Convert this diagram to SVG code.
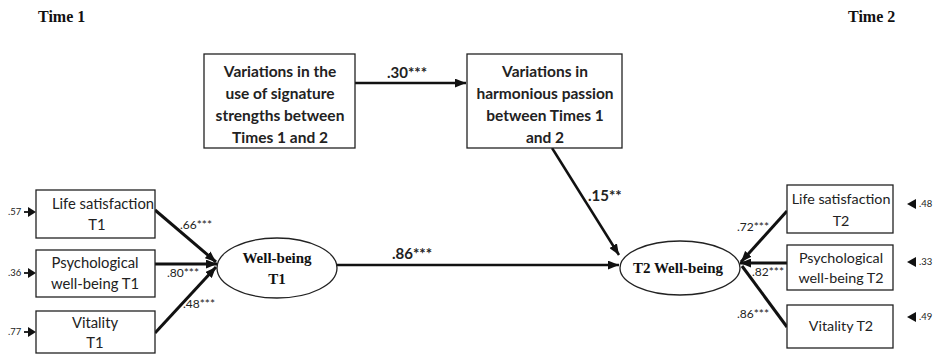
<svg xmlns="http://www.w3.org/2000/svg" width="938" height="355" viewBox="0 0 938 355">
  <style>
    .box { fill: #fff; stroke: #222; stroke-width: 1.3; }
    .ell { fill: #fff; stroke: #222; stroke-width: 1.3; }
    .lbl { font-family: Lato, "Liberation Sans", sans-serif; font-size: 14.8px; fill: #222; text-anchor: middle; }
    .lbl2 { font-family: Lato, "Liberation Sans", sans-serif; font-size: 14.3px; fill: #222; text-anchor: middle; }
    .blbl { font-family: Lato, "Liberation Sans", sans-serif; font-size: 15.5px; font-weight: bold; fill: #222; text-anchor: middle; }
    .fac { font-family: "Liberation Serif", serif; font-size: 15px; font-weight: bold; fill: #111; text-anchor: middle; }
    .head { font-family: "Liberation Serif", serif; font-size: 16px; font-weight: bold; fill: #111; }
    .coef { font-family: Lato, "Liberation Sans", sans-serif; font-size: 12px; fill: #222; }
    .bcoef { font-family: Lato, "Liberation Sans", sans-serif; font-size: 15px; font-weight: bold; fill: #222; }
    .err { font-family: Lato, "Liberation Sans", sans-serif; font-size: 9.5px; fill: #222; }
    .path { stroke: #111; stroke-width: 2.5; fill: none; }
    .load { stroke: #111; stroke-width: 3; fill: none; }
    .eline { stroke: #111; stroke-width: 1.8; fill: none; }
    .tri { fill: #111; }
  </style>
  <defs>
    <marker id="arrow" viewBox="0 0 10 8" refX="10" refY="4" markerWidth="11" markerHeight="9" markerUnits="userSpaceOnUse" orient="auto">
      <path d="M0,0 L10,4 L0,8 z" fill="#111"/>
    </marker>
  </defs>

  <rect width="938" height="355" fill="#fff"/>

  <!-- column headings -->
  <text class="head" x="38" y="22">Time 1</text>
  <text class="head" x="848" y="22">Time 2</text>

  <!-- connectors -->
  <g id="connectors">
    <!-- structural paths -->
    <line class="path" x1="355" y1="83" x2="466" y2="83" marker-end="url(#arrow)"/>
    <line class="path" x1="552" y1="148" x2="619" y2="255" marker-end="url(#arrow)"/>
    <line class="path" x1="337" y1="265" x2="619" y2="265" marker-end="url(#arrow)"/>
    <!-- Time 1 loadings -->
    <line class="load" x1="155" y1="210" x2="216" y2="262" marker-end="url(#arrow)"/>
    <line class="load" x1="155" y1="264" x2="217" y2="264" marker-end="url(#arrow)"/>
    <line class="load" x1="155" y1="333" x2="216" y2="267" marker-end="url(#arrow)"/>
    <!-- Time 2 loadings -->
    <line class="load" x1="787" y1="211" x2="741" y2="262" marker-end="url(#arrow)"/>
    <line class="load" x1="787" y1="263" x2="740" y2="263" marker-end="url(#arrow)"/>
    <line class="load" x1="787" y1="327" x2="742" y2="266"/>
    <!-- residuals, Time 1 -->
    <line class="eline" x1="24" y1="212" x2="30" y2="212"/>
    <polygon class="tri" points="28,207 36,212 28,217"/>
    <line class="eline" x1="24" y1="273" x2="30" y2="273"/>
    <polygon class="tri" points="28,268 36,273 28,278"/>
    <line class="eline" x1="24" y1="332" x2="30" y2="332"/>
    <polygon class="tri" points="28,327 36,332 28,337"/>
    <!-- residuals, Time 2 -->
    <polygon class="tri" points="907,204 916,199 916,209"/>
    <polygon class="tri" points="907,262 916,257 916,267"/>
    <polygon class="tri" points="907,317 916,312 916,322"/>

    <!-- coefficients -->
    <text class="bcoef" x="387" y="78">.30***</text>
    <text class="bcoef" x="588" y="201">.15**</text>
    <text class="bcoef" x="392" y="259">.86***</text>
    <text class="coef" x="180" y="229">.66***</text>
    <text class="coef" x="167" y="277">.80***</text>
    <text class="coef" x="183" y="308">.48***</text>
    <text class="coef" x="737" y="231">.72***</text>
    <text class="coef" x="752" y="276">.82***</text>
    <text class="coef" x="737" y="318">.86***</text>
    <text class="err" x="8" y="215">.57</text>
    <text class="err" x="8" y="276">.36</text>
    <text class="err" x="8" y="335">.77</text>
    <text class="err" x="919" y="207">.48</text>
    <text class="err" x="919" y="265">.33</text>
    <text class="err" x="919" y="320">.49</text>
  </g>

  <g id="signature-strengths">
    <rect class="box" x="204" y="54" width="151" height="94"/>
    <text class="blbl" x="280" y="77">Variations in the</text>
    <text class="blbl" x="280" y="99">use of signature</text>
    <text class="blbl" x="280" y="121">strengths between</text>
    <text class="blbl" x="280" y="143">Times 1 and 2</text>
  </g>

  <g id="harmonious-passion">
    <rect class="box" x="467" y="54" width="155" height="94"/>
    <text class="blbl" x="545" y="77">Variations in</text>
    <text class="blbl" x="545" y="99">harmonious passion</text>
    <text class="blbl" x="545" y="121">between Times 1</text>
    <text class="blbl" x="545" y="143">and 2</text>
  </g>

  <g id="life-satisfaction-t1">
    <rect class="box" x="36" y="190" width="119" height="48"/>
    <text class="lbl" x="103" y="209">Life satisfaction</text>
    <text class="lbl" x="97" y="230">T1</text>
  </g>
  <g id="psych-wellbeing-t1">
    <rect class="box" x="36" y="250" width="119" height="47"/>
    <text class="lbl" x="95" y="268">Psychological</text>
    <text class="lbl" x="95" y="289">well-being T1</text>
  </g>
  <g id="vitality-t1">
    <rect class="box" x="36" y="311" width="119" height="42"/>
    <text class="lbl" x="95" y="328">Vitality</text>
    <text class="lbl" x="95" y="348">T1</text>
  </g>

  <g id="wellbeing-t1">
    <ellipse class="ell" cx="277" cy="268" rx="60" ry="30"/>
    <text class="fac" x="277" y="263">Well-being</text>
    <text class="fac" x="277" y="284">T1</text>
  </g>

  <g id="wellbeing-t2">
    <ellipse class="ell" cx="680" cy="268" rx="60" ry="27"/>
    <text class="fac" x="678" y="273">T2 Well-being</text>
  </g>

  <g id="life-satisfaction-t2">
    <rect class="box" x="787" y="185" width="106" height="48"/>
    <text class="lbl2" x="841" y="204">Life satisfaction</text>
    <text class="lbl2" x="841" y="226">T2</text>
  </g>
  <g id="psych-wellbeing-t2">
    <rect class="box" x="787" y="245" width="106" height="45"/>
    <text class="lbl2" x="841" y="263">Psychological</text>
    <text class="lbl2" x="841" y="283">well-being T2</text>
  </g>
  <g id="vitality-t2">
    <rect class="box" x="787" y="305" width="106" height="43"/>
    <text class="lbl2" x="841" y="331">Vitality T2</text>
  </g>
</svg>
